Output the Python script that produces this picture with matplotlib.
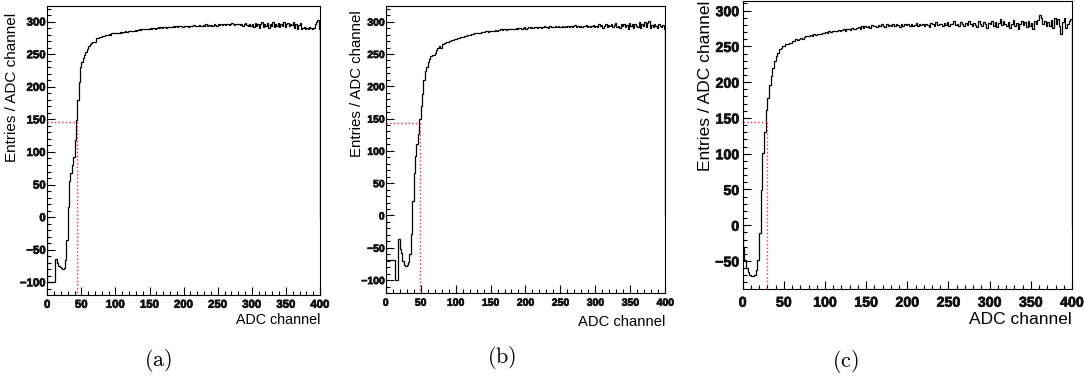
import numpy as np
import matplotlib.pyplot as plt
import matplotlib.patheffects as pe
from matplotlib.ticker import MultipleLocator

plt.rcParams["font.family"] = ["Liberation Sans", "DejaVu Sans"]
plt.rcParams["font.weight"] = "bold"   # tick labels are bold, axis titles set back to normal

# bin contents, 2 ADC channels per bin from 0 to 400 (200 bins)
counts_a = [
    -100, -100, -100, -100, -100, -100, -64, -70, -75, -77,
    -78, -79, -78, -66, -35, 16, 55, 67, 80, 93,
    118, 149, 180, 208, 231, 238, 244, 249, 254, 258,
    262, 265, 267, 268, 268, 269, 275, 275, 276, 277,
    278, 278, 279, 279, 280, 281, 280, 282, 282, 282,
    283, 282, 283, 284, 283, 284, 284, 285, 284, 285,
    285, 286, 285, 286, 287, 286, 287, 288, 287, 288,
    288, 289, 288, 289, 289, 290, 289, 290, 290, 289,
    290, 291, 290, 291, 290, 292, 291, 290, 292, 291,
    292, 291, 293, 292, 293, 292, 293, 294, 293, 292,
    293, 294, 293, 292, 294, 293, 294, 295, 294, 293,
    294, 295, 293, 294, 295, 294, 296, 294, 295, 294,
    295, 294, 296, 295, 294, 296, 295, 297, 295, 296,
    295, 296, 297, 295, 296, 298, 297, 295, 296, 297,
    296, 295, 297, 294, 296, 298, 295, 293, 297, 294,
    296, 291, 298, 293, 297, 290, 296, 299, 292, 297,
    293, 298, 290, 297, 294, 299, 291, 296, 293, 298,
    292, 297, 294, 299, 291, 296, 298, 293, 297, 295,
    299, 290, 296, 288, 295, 298, 289, 290, 291, 289,
    290, 288, 291, 290, 289, 290, 297, 300, 302, 288,
]
counts_b = [
    -69, -69, -69, -69, -69, -69, -69, -100, -100, -37,
    -52, -58, -70, -76, -78, -77, -72, -60, -29, 23,
    66, 92, 110, 126, 149, 170, 188, 209, 224, 230,
    238, 242, 247, 248, 249, 252, 256, 260, 263, 260,
    265, 266, 267, 268, 269, 270, 270, 271, 272, 273,
    273, 274, 275, 276, 276, 277, 278, 278, 279, 280,
    280, 281, 281, 282, 282, 283, 283, 283, 284, 284,
    284, 285, 285, 284, 286, 285, 286, 286, 287, 286,
    287, 287, 288, 287, 288, 288, 287, 289, 288, 289,
    289, 288, 289, 290, 289, 290, 290, 289, 290, 291,
    288, 290, 291, 290, 291, 290, 292, 291, 290, 291,
    292, 290, 291, 293, 291, 292, 290, 293, 292, 291,
    292, 293, 291, 294, 292, 291, 293, 292, 294, 292,
    293, 292, 294, 291, 293, 295, 292, 293, 291, 294,
    292, 294, 293, 295, 292, 294, 291, 293, 295, 292,
    294, 291, 296, 293, 295, 290, 294, 297, 292, 295,
    293, 296, 291, 295, 298, 292, 294, 290, 296, 293,
    297, 291, 295, 289, 298, 293, 296, 290, 297, 294,
    292, 299, 290, 296, 293, 300, 291, 298, 301, 290,
    295, 292, 297, 293, 290, 296, 294, 291, 295, 288,
]
counts_c = [
    -32, -49, -60, -65, -70, -71, -71, -69, -62, -48,
    -11, 49, 101, 131, 161, 178, 196, 208, 220, 229,
    236, 241, 246, 248, 250, 251, 253, 254, 255, 255,
    258, 257, 260, 259, 261, 262, 261, 263, 264, 264,
    265, 266, 265, 267, 266, 268, 267, 268, 269, 269,
    270, 269, 271, 270, 272, 271, 272, 271, 273, 272,
    273, 274, 272, 275, 274, 273, 276, 275, 274, 276,
    277, 275, 278, 276, 279, 277, 278, 276, 280, 278,
    279, 277, 280, 278, 281, 279, 277, 281, 279, 280,
    278, 281, 279, 282, 280, 277, 281, 279, 282, 280,
    281, 278, 282, 279, 280, 283, 278, 281, 280, 282,
    279, 282, 280, 277, 283, 281, 279, 284, 280, 282,
    281, 278, 283, 280, 284, 279, 282, 281, 285, 280,
    282, 279, 284, 281, 278, 283, 280, 285, 281, 279,
    283, 280, 277, 285, 281, 279, 284, 282, 276, 283,
    281, 286, 279, 284, 277, 283, 288, 280, 285, 282,
    279, 284, 276, 282, 287, 278, 283, 275, 281, 286,
    280, 284, 277, 286, 279, 283, 275, 285, 281, 287,
    294, 290, 282, 285, 278, 284, 279, 287, 276, 290,
    282, 288, 279, 268, 284, 290, 276, 281, 285, 288,
]
edges = np.linspace(0, 400, 201)

# threshold point marked by the red dotted lines
thr_x = [43, 48.6, 29]
thr_y = [146.5, 143, 145]
captions = ["a", "b", "c"]

panels = [
    # axes rect, ylim, tick size, label sizes, ylabel x, ylabel top, xlabel y, ytick pad, xtick pad
    ([0.0436, 0.2216, 0.2516, 0.7626], (-119.5, 324), 8.2, (10.3, 11.0), -0.128, 0.975, -0.087, 1.0, 3.4),
    ([0.3558, 0.2261, 0.2579, 0.7581], (-120.5, 324.3), 7.5, (10.6, 10.8), -0.103, 0.986, -0.099, 0.8, 3.2),
    ([0.6851, 0.2367, 0.3038, 0.7607], (-89.5, 313.5), 10.2, (12.5, 12.5), -0.113, 1.0, -0.106, 2.5, 4.6),
]
cap_pos = [(0.1458, 0.050), (0.4631, 0.058), (0.7804, 0.047)]

fig = plt.figure(figsize=(10.84, 3.79), dpi=100)

for i, counts in enumerate([counts_a, counts_b, counts_c]):
    rect, ylim, tsize, lsize, ylx, yly, xly, ypad, xpad = panels[i]
    ax = fig.add_axes(rect)
    ax.stairs(counts, edges, color="black", lw=0.9)
    ax.plot([0, thr_x[i]], [thr_y[i], thr_y[i]], color="#f0284a", ls=":", lw=1.0)
    ax.plot([thr_x[i], thr_x[i]], [thr_y[i], ylim[0]], color="#f0284a", ls=":", lw=1.0)
    ax.set_xlim(0, 400)
    ax.set_ylim(*ylim)

    ax.xaxis.set_major_locator(MultipleLocator(50))
    ax.xaxis.set_minor_locator(MultipleLocator(10))
    ax.yaxis.set_major_locator(MultipleLocator(50))
    ax.yaxis.set_minor_locator(MultipleLocator(10))
    ax.tick_params(which="both", direction="in", top=False, right=False, width=0.8,
                   labelsize=tsize, labelcolor="#111111")
    ax.tick_params(which="major", length=6)
    ax.tick_params(which="minor", length=3.2)
    ax.tick_params(axis="y", pad=ypad)
    ax.tick_params(axis="x", pad=xpad)
    for sp in ax.spines.values():
        sp.set_linewidth(0.8)

    fig.canvas.draw()
    # thicken the small bold tick numbers a little
    for lab in ax.get_xticklabels() + ax.get_yticklabels():
        lab.set_path_effects([pe.withStroke(linewidth=0.5, foreground="#111111")])

    ax.set_xlabel("ADC channel", fontsize=lsize[0], fontweight="normal", loc="right")
    ax.xaxis.label.set_va("center")
    ax.xaxis.set_label_coords(1.0, xly)
    ax.set_ylabel("Entries / ADC channel", fontsize=lsize[1], fontweight="normal", loc="top")
    ax.yaxis.label.set_va("center")
    ax.yaxis.set_label_coords(ylx, yly)

    fig.text(cap_pos[i][0], cap_pos[i][1], r"$(\mathrm{%s})$" % captions[i],
             fontsize=16, fontweight="normal", math_fontfamily="cm", ha="center", va="center")

fig.savefig("out.png", dpi=100)
plt.close(fig)
